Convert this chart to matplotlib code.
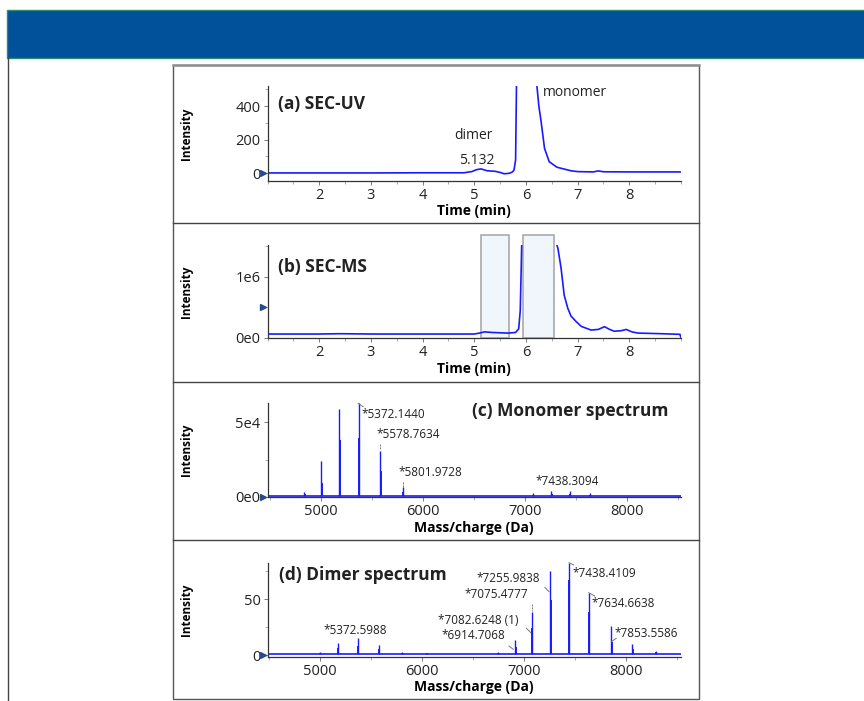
import matplotlib
matplotlib.use("Agg")
import matplotlib.pyplot as plt
from matplotlib.patches import Rectangle
from matplotlib.lines import Line2D
from matplotlib.ticker import MultipleLocator

plt.rcParams['font.family'] = ['Open Sans', 'DejaVu Sans']

# (a) SEC-UV chromatogram
uv_time = [1.0, 2.0, 3.0, 4.0, 4.8, 4.95, 5.05, 5.13, 5.25, 5.4, 5.5, 5.58, 5.68, 5.74,
           5.77, 5.80, 5.82, 5.9, 6.0, 6.1, 6.2, 6.25, 6.29, 6.36, 6.45, 6.6, 6.87, 7.0,
           7.3, 7.4, 7.5, 8.0, 9.0]
uv_int = [2, 2, 2, 3, 3, 10, 22, 26, 15, 12, 5, -3, 0, 8,
          20, 80, 600, 1500, 2000, 1200, 560, 400, 316, 148, 69, 36, 15, 10,
          8, 14, 9, 8, 8]

# (b) SEC-MS total ion chromatogram
ms_time = [1.0, 2.0, 2.4, 3.0, 4.0, 5.0, 5.1, 5.2, 5.35, 5.5, 5.65, 5.8, 5.86, 5.89,
           5.91, 5.93, 6.2, 6.5, 6.57, 6.62, 6.68, 6.74, 6.81, 6.87, 6.97, 7.07, 7.26,
           7.4, 7.52, 7.62, 7.71, 7.85, 7.94, 8.05, 8.17, 8.4, 8.62, 8.98, 9.0]
ms_int = [0.065, 0.065, 0.07, 0.065, 0.065, 0.065, 0.08, 0.10, 0.09, 0.085, 0.08, 0.09, 0.15, 0.45,
          1.2, 2.0, 2.5, 2.0, 1.6, 1.46, 1.14, 0.70, 0.485, 0.36, 0.27, 0.19, 0.13,
          0.14, 0.185, 0.14, 0.11, 0.12, 0.14, 0.10, 0.08, 0.075, 0.07, 0.06, 0.0]
ms_int = [v * 1e6 for v in ms_int]
windows = [(5.13, 5.68), (5.95, 6.55)]

# (c) monomer spectrum
mono_mz = [4835, 5001, 5180, 5372, 5579, 5802, 6920, 7075, 7256, 7438, 7635, 7854]
mono_int = [3400, 24000, 58700, 62700, 30700, 6300, 600, 2300, 4000, 4000, 2300, 800]
mono_shoulder = [1500, 9000, 38000, 39400, 17000, 3000, 300, 1200, 2000, 2000, 1200, 400]
mono_labels = ["*5372.1440", "*5578.7634", "*5801.9728", "*7438.3094"]

# (d) dimer spectrum
dimer_mz = [5001, 5180, 5373, 5579, 5802, 6045, 6746, 6915, 7076, 7256, 7438, 7635, 7854, 8058, 8288]
dimer_int = [3, 11, 14.9, 8.9, 3, 2, 3, 13.4, 38.7, 75.3, 82.4, 55.6, 25.9, 9.8, 3.6]
dimer_shoulder = [2, 6, 8, 5, 2, 1.5, 2, 7, 24, 49, 67, 38, 12, 5, 2.5]
dimer_labels = ["*5372.5988", "*6914.7068", "*7082.6248 (1)", "*7075.4777",
                "*7255.9838", "*7438.4109", "*7634.6638", "*7853.5586"]

W, H = 864, 701
fig = plt.figure(figsize=(W / 100, H / 100), dpi=100)


def box(x0, y0, x1, y1):
    # pixel box -> figure fraction [left, bottom, width, height]
    return [x0 / W, 1 - y1 / H, (x1 - x0) / W, (y1 - y0) / H]


# banner and frames
fig.add_artist(Rectangle((7 / W, 1 - 58 / H), 1, 48 / H, transform=fig.transFigure,
                         facecolor='#00509a', edgecolor='#2a8c6a', lw=1))
fig.add_artist(Line2D([7.5 / W, 7.5 / W], [0, 1 - 58 / H], transform=fig.transFigure,
                      color='#444444', lw=1))
fig.add_artist(Rectangle((173 / W, 1 - 699 / H), 526 / W, 634 / H, transform=fig.transFigure,
                         facecolor='none', edgecolor='#555555', lw=1))
fig.add_artist(Line2D([173 / W, 699 / W], [1 - 65 / H] * 2, transform=fig.transFigure,
                      color='#909090', lw=1.8))
for py in [223, 382, 540]:
    fig.add_artist(Line2D([173 / W, 699 / W], [1 - py / H] * 2, transform=fig.transFigure,
                          color='#444444', lw=1))

blue = '#1a1aff'
marker_col = '#2a4a8a'
tick_fs = 10.5
lab_fs = 10
title_fs = 12.5
ann_fs = 8.5


def style(ax, xlabel):
    for s in ['top', 'right']:
        ax.spines[s].set_visible(False)
    for s in ['left', 'bottom']:
        ax.spines[s].set_color('#333333')
        ax.spines[s].set_linewidth(0.9)
    ax.tick_params(labelsize=tick_fs, length=3, width=0.6, color='#666666', pad=2,
                   labelcolor='#222222')
    ax.tick_params(which='minor', length=2, width=0.5, color='#888888')
    ax.set_xlabel(xlabel, fontsize=lab_fs, fontweight='bold', labelpad=1)
    ax.set_ylabel("Intensity", fontsize=8.5, fontweight='bold')
    ax.yaxis.set_label_coords(-0.18, 0.5)


def arrow(ax, yv):
    ax.plot([-0.012], [yv], marker='>', ms=5, color=marker_col, clip_on=False,
            transform=ax.get_yaxis_transform(), zorder=5)


# ---- (a) ----
axa = fig.add_axes(box(267.5, 86, 681, 181))
axa.plot(uv_time, uv_int, color=blue, lw=1.2)
axa.set_xlim(1, 9)
axa.set_ylim(-46, 520)
axa.set_xticks(range(2, 9))
axa.xaxis.set_minor_locator(MultipleLocator(0.5))
axa.set_yticks([0, 200, 400])
axa.yaxis.set_minor_locator(MultipleLocator(100))
style(axa, "Time (min)")
arrow(axa, 0)
axa.text(1.21, 415, "(a) SEC-UV", fontsize=title_fs, fontweight='bold', va='center', color='#222222')
axa.text(6.32, 481, "monomer", fontsize=10, va='center', color='#222222')
axa.text(4.61, 227, "dimer", fontsize=10, va='center', color='#222222')
axa.text(4.70, 79, "5.132", fontsize=10, va='center', color='#222222')

# ---- (b) ----
axb = fig.add_axes(box(267.5, 245, 681, 338.3))
for x0, x1 in windows:
    axb.add_patch(Rectangle((x0, 0), x1 - x0, 1.68e6, facecolor='#f0f6fc', edgecolor='#aaaaaa',
                            lw=1.2, clip_on=False, zorder=1))
axb.plot(ms_time, ms_int, color=blue, lw=1.2, zorder=3)
axb.set_xlim(1, 9)
axb.set_ylim(-0.005e6, 1.52e6)
axb.set_xticks(range(2, 9))
axb.xaxis.set_minor_locator(MultipleLocator(0.5))
axb.set_yticks([0, 1e6])
axb.set_yticklabels(["0e0", "1e6"])
axb.yaxis.set_minor_locator(MultipleLocator(0.5e6))
style(axb, "Time (min)")
arrow(axb, 0.51e6)
axb.text(1.21, 1.16e6, "(b) SEC-MS", fontsize=title_fs, fontweight='bold', va='center', color='#222222')

# ---- (c) ----
axc = fig.add_axes(box(267.5, 403.3, 681, 497.3))
axc.hlines(300, 4475, 8525, color=blue, lw=1.2)
axc.vlines(mono_mz, 300, mono_int, color=blue, lw=1.0)
axc.vlines([m + 3 for m in mono_mz], 300, mono_shoulder, color=blue, lw=1.4)
axc.set_xlim(4475, 8525)
axc.set_ylim(-400, 62800)
axc.set_xticks([5000, 6000, 7000, 8000])
axc.xaxis.set_minor_locator(MultipleLocator(500))
axc.set_yticks([0, 5e4])
axc.set_yticklabels(["0e0", "5e4"])
axc.yaxis.set_minor_locator(MultipleLocator(2.5e4))
style(axc, "Mass/charge (Da)")
arrow(axc, 0)
axc.text(6477, 57800, "(c) Monomer spectrum", fontsize=title_fs, fontweight='bold', va='center',
         color='#222222')
for (x, y), lab in zip([(5391, 55400), (5541, 41500), (5759, 16100), (7104, 10100)], mono_labels):
    axc.text(x, y, lab, fontsize=ann_fs, va='center', color='#222222')
axc.plot([5362, 5411], [62800, 60500], color='#777777', lw=0.7, clip_on=False)
axc.plot([5573, 5573], [35200, 31400], color='#777777', lw=0.7, ls=(0, (2, 1)))
axc.plot([5798, 5798], [10100, 6700], color='#777777', lw=0.7, ls=(0, (2, 1)))

# ---- (d) ----
axd = fig.add_axes(box(267.5, 562.7, 681, 656.7))
axd.hlines(1.2, 4475, 8535, color=blue, lw=1.2)
axd.vlines(dimer_mz, 1.2, dimer_int, color=blue, lw=1.0)
axd.vlines([m + 3 for m in dimer_mz], 1.2, dimer_shoulder, color=blue, lw=1.4)
axd.set_xlim(4490, 8535)
axd.set_ylim(-1.5, 82.4)
axd.set_xticks([5000, 6000, 7000, 8000])
axd.xaxis.set_minor_locator(MultipleLocator(500))
axd.set_yticks([0, 50])
axd.yaxis.set_minor_locator(MultipleLocator(25))
style(axd, "Mass/charge (Da)")
arrow(axd, 0)
axd.text(4600, 71, "(d) Dimer spectrum", fontsize=title_fs, fontweight='bold', va='center',
         color='#222222')
d_pos = [(5042, 22.3), (6189, 17), (6157, 31), (6413, 53.6),
         (6530, 68.5), (7472, 73), (7657, 46), (7885, 19)]
for (x, y), lab in zip(d_pos, dimer_labels):
    axd.text(x, y, lab, fontsize=ann_fs, va='center', color='#222222')
leaders = [([6852, 6894], [8.0, 5.1]), ([7024, 7066], [23.8, 19.9]),
           ([7203, 7245], [60.4, 56.5]), ([7440, 7485], [82.4, 80.4]),
           ([7632, 7690], [55.6, 52.7]), ([7853, 7902], [11.9, 14.9])]
for xs, ys in leaders:
    axd.plot(xs, ys, color='#777777', lw=0.7, clip_on=False)
axd.plot([7073, 7073], [45.5, 39.6], color='#777777', lw=0.7, ls=(0, (2, 1)))

fig.savefig("out.png", dpi=100)
